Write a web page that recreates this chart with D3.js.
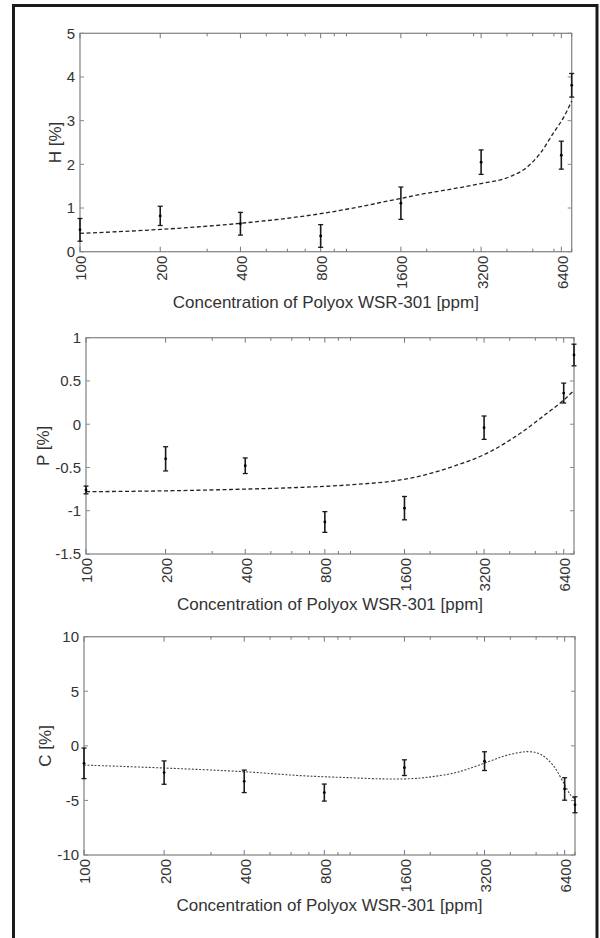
<!DOCTYPE html>
<html>
<head>
<meta charset="utf-8">
<script src="https://cdnjs.cloudflare.com/ajax/libs/d3/7.8.5/d3.min.js"></script>
<style>
  body { margin: 0; background: #fff; }
  svg { display: block; }
  text { font-family: "Liberation Sans", Arial, sans-serif; fill: #333; }
</style>
</head>
<body>
<svg width="600" height="938"></svg>
<script>
// measured concentrations (ppm)
var conc = [100, 200, 400, 800, 1600, 3200, 6400, 7000];
var tickLabels = [100, 200, 400, 800, 1600, 3200, 6400];
var minorTicks = [300, 500, 600, 700, 900, 1000, 2000, 3000, 4000, 5000, 6000, 7000];

// H
var hMean = [0.50, 0.82, 0.64, 0.36, 1.11, 2.05, 2.21, 3.81];
var hErr  = [0.26, 0.22, 0.26, 0.26, 0.37, 0.28, 0.32, 0.27];
var hFitX = [100, 200, 400, 800, 1600, 1890, 2510, 3200, 4110, 4750, 5330, 5980, 6520, 7000];
var hFitY = [0.42, 0.51, 0.65, 0.87, 1.22, 1.31, 1.44, 1.56, 1.72, 1.93, 2.25, 2.72, 3.07, 3.45];
var hTicks = [0, 1, 2, 3, 4, 5];

// P
var pMean = [-0.76, -0.40, -0.48, -1.13, -0.97, -0.04, 0.36, 0.80];
var pErr  = [0.045, 0.14, 0.09, 0.12, 0.135, 0.135, 0.115, 0.125];
var pFitX = [100, 200, 400, 650, 1000, 1500, 1830, 2430, 3260, 4360, 5500, 6350, 7000];
var pFitY = [-0.78, -0.77, -0.75, -0.73, -0.70, -0.65, -0.60, -0.49, -0.34, -0.11, 0.12, 0.27, 0.39];
var pTicks = [-1.5, -1, -0.5, 0, 0.5, 1];

// C
var cMean = [-1.6, -2.45, -3.25, -4.28, -2.0, -1.4, -3.95, -5.4];
var cErr  = [1.4, 1.07, 1.03, 0.78, 0.72, 0.86, 1.03, 0.73];
var cFitX = [100, 200, 400, 650, 1000, 1340, 1600, 1840, 2100, 2450, 2750, 3230, 3770, 4300, 4630, 5000, 5340, 5840, 6360, 6740, 7000];
var cFitY = [-1.76, -2.03, -2.37, -2.73, -2.92, -3.03, -3.03, -2.95, -2.78, -2.5, -2.15, -1.55, -0.95, -0.62, -0.53, -0.62, -0.95, -1.9, -3.45, -4.5, -4.9];
var cTicks = [-10, -5, 0, 5, 10];

var svg = d3.select('svg');

// outer frame (open at the bottom, runs off the page)
svg.append("rect")
    .attr("x", 13.5).attr("y", 5.5)
    .attr("width", 583.5).attr("height", 960)
    .attr("fill", "none")
    .attr("stroke", "#1a1a1a")
    .attr("stroke-width", 3);

var panels = [
    {label: "H [%]", mean: hMean, err: hErr, fx: hFitX, fy: hFitY, ticks: hTicks, dom: [0, 5],
     left: 80, right: 571.7, top: 33.3, bottom: 251.7, labelX: 55, dash: "4,2.5", fitW: 1.3, fitC: "#222",
     curve: d3.curveMonotoneX},
    {label: "P [%]", mean: pMean, err: pErr, fx: pFitX, fy: pFitY, ticks: pTicks, dom: [-1.5, 1],
     left: 86, right: 574, top: 337.7, bottom: 554, labelX: 43, dash: "4,2.5", fitW: 1.3, fitC: "#222",
     curve: d3.curveMonotoneX},
    {label: "C [%]", mean: cMean, err: cErr, fx: cFitX, fy: cFitY, ticks: cTicks, dom: [-10, 10],
     left: 84, right: 575, top: 636.7, bottom: 855, labelX: 45, dash: "2,1.6", fitW: 1.1, fitC: "#444",
     curve: d3.curveCatmullRom.alpha(0.5)}
];

panels.forEach(function(p) {
    var x = d3.scaleLog().domain([100, 7000]).range([p.left, p.right]);
    var y = d3.scaleLinear().domain(p.dom).range([p.bottom, p.top]);
    var g = svg.append("g");

    ///////////////////// AXES BOX ////////////////////
    g.append("rect")
        .attr("x", p.left).attr("y", p.top)
        .attr("width", p.right - p.left).attr("height", p.bottom - p.top)
        .attr("fill", "none")
        .attr("stroke", "#8a8a8a")
        .attr("stroke-width", 1.3);

    // x ticks, inside, top and bottom
    var xt = tickLabels.map(function(v) { return {v: v, len: 5}; })
        .concat(minorTicks.map(function(v) { return {v: v, len: 3}; }));
    g.selectAll(".xtb").data(xt).enter().append("line")
        .attr("x1", function(d) { return x(d.v); }).attr("x2", function(d) { return x(d.v); })
        .attr("y1", p.bottom).attr("y2", function(d) { return p.bottom - d.len; })
        .attr("stroke", "#777").attr("stroke-width", 1);
    g.selectAll(".xtt").data(xt).enter().append("line")
        .attr("x1", function(d) { return x(d.v); }).attr("x2", function(d) { return x(d.v); })
        .attr("y1", p.top).attr("y2", function(d) { return p.top + d.len; })
        .attr("stroke", "#777").attr("stroke-width", 1);

    // y ticks, inside, left and right
    g.selectAll(".ytl").data(p.ticks).enter().append("line")
        .attr("x1", p.left).attr("x2", p.left + 4)
        .attr("y1", y).attr("y2", y)
        .attr("stroke", "#888").attr("stroke-width", 1);
    g.selectAll(".ytr").data(p.ticks).enter().append("line")
        .attr("x1", p.right).attr("x2", p.right - 4)
        .attr("y1", y).attr("y2", y)
        .attr("stroke", "#888").attr("stroke-width", 1);

    // tick labels
    g.selectAll(".ylab").data(p.ticks).enter().append("text")
        .attr("x", p.left - 5)
        .attr("y", y)
        .attr("dy", "0.36em")
        .attr("text-anchor", "end")
        .style("font-size", "15px")
        .text(function(d) { return d; });

    g.selectAll(".xlab").data(tickLabels).enter().append("text")
        .attr("text-anchor", "end")
        .attr("dy", "0.36em")
        .attr("transform", function(d) { return "translate(" + (x(d) + 1) + "," + (p.bottom + 4) + ")rotate(-90)"; })
        .style("font-size", "15px")
        .text(function(d) { return d; });

    // axis titles
    g.append("text")
        .attr("text-anchor", "middle")
        .attr("x", (p.left + p.right) / 2)
        .attr("y", p.bottom + 56)
        .style("font-size", "17px")
        .text("Concentration of Polyox WSR-301 [ppm]");

    g.append("text")
        .attr("text-anchor", "middle")
        .attr("dy", "0.36em")
        .attr("transform", "translate(" + p.labelX + "," + (p.top + p.bottom) / 2 + ")rotate(-90)")
        .style("font-size", "17px")
        .text(p.label);

    ///////////////////// FIT CURVE ////////////////////
    var fit = p.fx.map(function(v, i) { return [v, p.fy[i]]; });
    g.append("path")
        .datum(fit)
        .attr("fill", "none")
        .attr("stroke", p.fitC)
        .attr("stroke-width", p.fitW)
        .attr("stroke-dasharray", p.dash)
        .attr("d", d3.line()
            .x(function(d) { return x(d[0]); })
            .y(function(d) { return y(d[1]); })
            .curve(p.curve));

    ///////////////////// ERROR BARS ////////////////////
    var pts = conc.map(function(c, i) { return {c: c, m: p.mean[i], e: p.err[i]}; });
    var eb = g.selectAll(".eb").data(pts).enter().append("g")
        .attr("stroke", "#1a1a1a");
    eb.append("line")
        .attr("x1", function(d) { return x(d.c); }).attr("x2", function(d) { return x(d.c); })
        .attr("y1", function(d) { return y(d.m - d.e); }).attr("y2", function(d) { return y(d.m + d.e); })
        .attr("stroke-width", 1.6);
    eb.append("line")
        .attr("x1", function(d) { return x(d.c) - 2.5; }).attr("x2", function(d) { return x(d.c) + 2.5; })
        .attr("y1", function(d) { return y(d.m + d.e); }).attr("y2", function(d) { return y(d.m + d.e); })
        .attr("stroke-width", 1.3);
    eb.append("line")
        .attr("x1", function(d) { return x(d.c) - 2.5; }).attr("x2", function(d) { return x(d.c) + 2.5; })
        .attr("y1", function(d) { return y(d.m - d.e); }).attr("y2", function(d) { return y(d.m - d.e); })
        .attr("stroke-width", 1.3);
    eb.append("circle")
        .attr("cx", function(d) { return x(d.c); })
        .attr("cy", function(d) { return y(d.m); })
        .attr("r", 1.4)
        .attr("fill", "#000")
        .attr("stroke", "none");
});
</script>
</body>
</html>
